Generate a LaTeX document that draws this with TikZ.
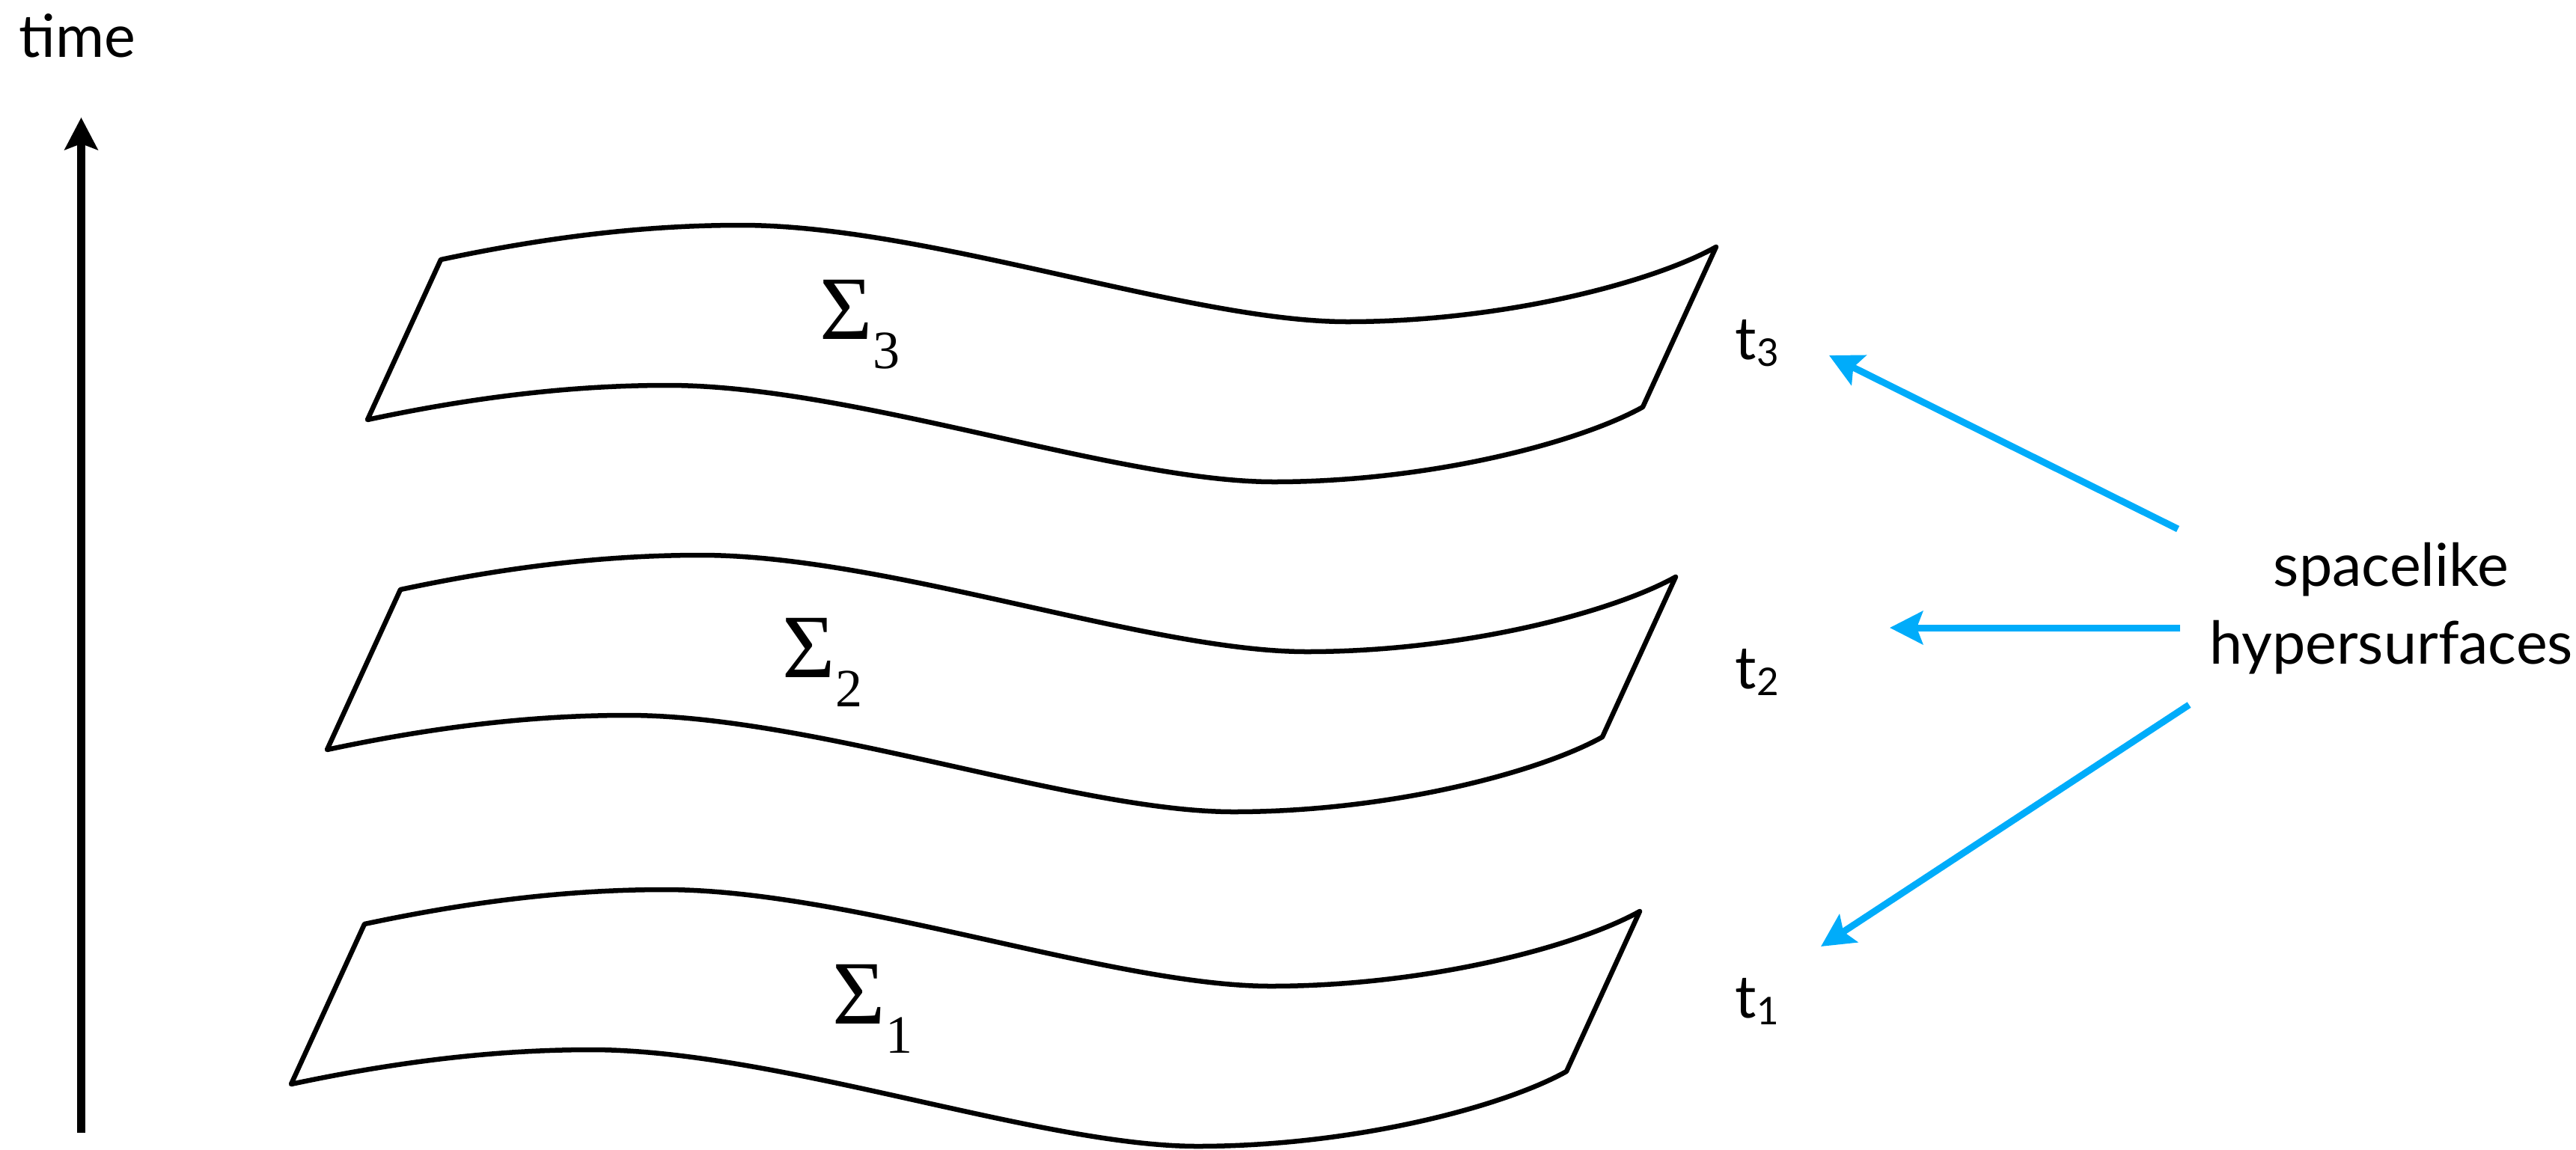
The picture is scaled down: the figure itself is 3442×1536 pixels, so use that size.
\documentclass[tikz,border=0pt]{standalone}
\usepackage{fontspec}
\setmainfont{Lato}
\newfontfamily\sigfont{Liberation Serif}
\usetikzlibrary{arrows.meta}
\definecolor{skyblue}{RGB}{0,172,250}
\newcommand\wavysurface[2]{%
  \draw[surf,shift={(#1,#2)}]
    (0,0) .. controls (150,-32) and (280,-46) .. (401,-46)
          .. controls (650,-46) and (1000,83) .. (1211,83)
          .. controls (1420,83) and (1620,30) .. (1704,-17)
    -- (1606,197)
          .. controls (1522,244) and (1322,297) .. (1113,297)
          .. controls (902,297) and (552,168) .. (303,168)
          .. controls (182,168) and (52,182) .. (-98,214)
    -- cycle;}
\begin{document}
\begin{tikzpicture}[x=0.01cm,y=-0.01cm,
  surf/.style={draw=black,line width=0.065cm,line join=round},
  bluearrow/.style={draw=skyblue,line width=0.09cm,-{Stealth[length=0.44cm,width=0.44cm,inset=0.08cm]}},
  timearrow/.style={draw=black,line width=0.11cm,-{Stealth[length=0.43cm,width=0.44cm,inset=0.08cm]}},
  lab/.style={inner sep=0pt,anchor=base west,font=\fontsize{22.5pt}{29.5pt}\selectfont},
  siglab/.style={inner sep=0pt,anchor=base west,font=\sigfont\fontsize{34.4pt}{40pt}\selectfont}]
\useasboundingbox (0,0) rectangle (3442,1536);

% time axis
\node[lab] (time) at (25,76) {time};
\coordinate (tb) at (108.5,1514);
\coordinate (tt) at (108.5,157);
\draw[timearrow] (tb) -- (tt);

% surfaces
\wavysurface{589}{347}
\wavysurface{535}{788}
\wavysurface{487}{1235}

% sigma labels
\node[siglab] (s3) at (1095,453) {Σ\raisebox{-0.39cm}{\fontsize{20.5pt}{24pt}\selectfont 3}};
\node[siglab] (s2) at (1045,905) {Σ\raisebox{-0.39cm}{\fontsize{20.5pt}{24pt}\selectfont 2}};
\node[siglab] (s1) at (1112,1368) {Σ\raisebox{-0.39cm}{\fontsize{20.5pt}{24pt}\selectfont 1}};

% time labels
\node[lab] (t3) at (2318,480) {t\raisebox{-0.09cm}{\fontsize{14.5pt}{16pt}\selectfont 3}};
\node[lab] (t2) at (2318,920) {t\raisebox{-0.09cm}{\fontsize{14.5pt}{16pt}\selectfont 2}};
\node[lab] (t1) at (2318,1360) {t\raisebox{-0.09cm}{\fontsize{14.5pt}{16pt}\selectfont 1}};

% right label (base anchor = baseline of the last line)
\node[inner sep=0pt,anchor=base,align=center,font=\fontsize{22.5pt}{29.5pt}\selectfont] (sh) at (3195,887) {spacelike\\hypersurfaces};

% blue arrows
\coordinate (a3s) at (2910,707); \coordinate (a3e) at (2444,475);
\coordinate (a2s) at (2913,839); \coordinate (a2e) at (2525,839);
\coordinate (a1s) at (2925,942); \coordinate (a1e) at (2433,1265);
\draw[bluearrow] (a3s) -- (a3e);
\draw[bluearrow] (a2s) -- (a2e);
\draw[bluearrow] (a1s) -- (a1e);
\end{tikzpicture}
\end{document}
